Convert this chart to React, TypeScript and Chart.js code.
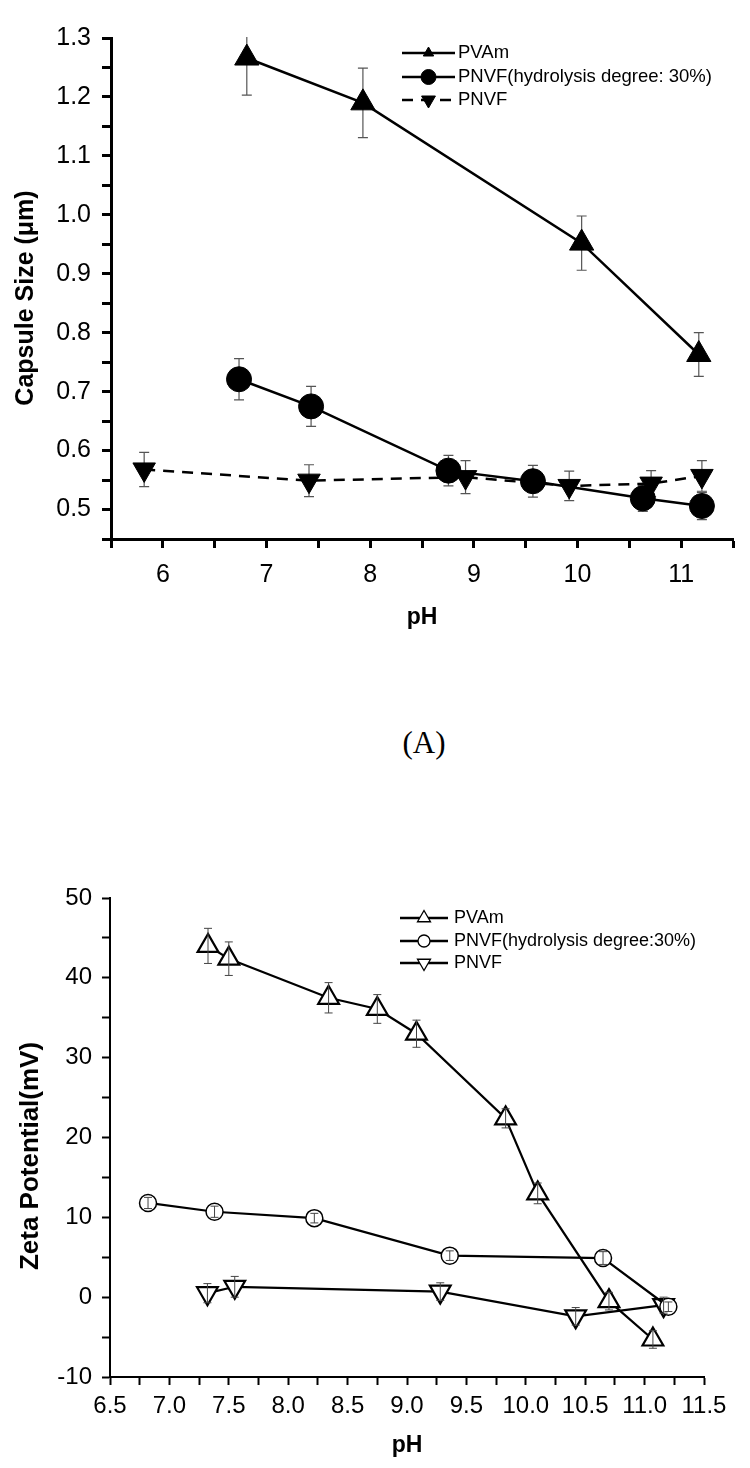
import React, { useEffect, useRef } from 'react';
import { Chart, registerables } from 'chart.js';

Chart.register(...registerables);

const FONT = "'Liberation Sans', Arial, Helvetica, sans-serif";

// ---------- Panel A: capsule size vs pH ----------
const A_TITLE_Y = 'Capsule Size (\u03BCm)';
const A_TITLE_X = 'pH';
const A_LABELS = ['PVAm', 'PNVF(hydrolysis degree: 30%)', 'PNVF'];
const A_PVAM_PH = [6.81, 7.93, 10.04, 11.17];
const A_PVAM_SIZE = [1.266, 1.19, 0.952, 0.763];
const A_PVAM_ERR = [0.063, 0.059, 0.046, 0.037];
const A_PNVF30_PH = [6.735, 7.43, 8.755, 9.57, 10.63, 11.2];
const A_PNVF30_SIZE = [0.721, 0.675, 0.566, 0.548, 0.519, 0.506];
const A_PNVF30_ERR = [0.035, 0.034, 0.026, 0.027, 0.022, 0.023];
const A_PNVF_PH = [5.82, 7.41, 8.92, 9.92, 10.71, 11.2];
const A_PNVF_SIZE = [0.568, 0.549, 0.555, 0.54, 0.544, 0.557];
const A_PNVF_ERR = [0.029, 0.027, 0.028, 0.025, 0.022, 0.026];

// ---------- Panel B: zeta potential vs pH ----------
const B_TITLE_Y = 'Zeta Potential(mV)';
const B_TITLE_X = 'pH';
const B_LABELS = ['PVAm', 'PNVF(hydrolysis degree:30%)', 'PNVF'];
const B_PVAM_PH = [7.325, 7.5, 8.34, 8.75, 9.08, 9.83, 10.1, 10.7, 11.07];
const B_PVAM_ZETA = [44.0, 42.4, 37.5, 36.1, 33.0, 22.4, 13.0, -0.5, -5.3];
const B_PVAM_ERR = [2.2, 2.1, 1.9, 1.8, 1.7, 1.2, 1.3, 1.1, 1.1];
const B_PNVF30_PH = [6.82, 7.38, 8.22, 9.36, 10.65, 11.2];
const B_PNVF30_ZETA = [11.8, 10.7, 9.9, 5.2, 4.9, -1.2];
const B_PNVF30_ERR = [0.7, 0.7, 0.6, 0.6, 0.8, 0.6];
const B_PNVF_PH = [7.32, 7.55, 9.28, 10.42, 11.16];
const B_PNVF_ZETA = [0.5, 1.3, 0.7, -2.4, -1.0];
const B_PNVF_ERR = [1.2, 1.3, 1.1, 1.1, 1.0];

const toPoints = (xs: number[], ys: number[]) => xs.map((x, i) => ({ x, y: ys[i] }));

function shapePath(ctx: CanvasRenderingContext2D, style: string, rot: number, x: number, y: number, r: number) {
  ctx.beginPath();
  if (style === 'circle') {
    ctx.arc(x, y, r, 0, Math.PI * 2);
  } else {
    let a = (rot * Math.PI) / 180;
    for (let k = 0; k < 3; k++) {
      const px = x + Math.sin(a) * r;
      const py = y - Math.cos(a) * r;
      if (k === 0) ctx.moveTo(px, py);
      else ctx.lineTo(px, py);
      a += (2 * Math.PI) / 3;
    }
  }
  ctx.closePath();
}

function drawErrors(chart: any, o: any) {
  const { ctx, chartArea, scales } = chart;
  ctx.save();
  ctx.beginPath();
  ctx.rect(chartArea.left, chartArea.top - 1, chartArea.right - chartArea.left, chartArea.bottom - chartArea.top + 1);
  ctx.clip();
  ctx.strokeStyle = o.color;
  ctx.lineWidth = o.lineWidth;
  chart.data.datasets.forEach((ds: any) => {
    const errs: number[] = ds.errors;
    if (!errs) return;
    ds.data.forEach((p: any, j: number) => {
      const x = scales.x.getPixelForValue(p.x);
      const yHi = scales.y.getPixelForValue(p.y + errs[j]);
      const yLo = scales.y.getPixelForValue(p.y - errs[j]);
      ctx.beginPath();
      ctx.moveTo(x, yHi);
      ctx.lineTo(x, yLo);
      ctx.moveTo(x - o.cap, yHi);
      ctx.lineTo(x + o.cap, yHi);
      ctx.moveTo(x - o.cap, yLo);
      ctx.lineTo(x + o.cap, yLo);
      ctx.stroke();
    });
  });
  ctx.restore();
}

const errorBarPlugin = {
  id: 'errorBars',
  beforeDatasetsDraw(chart: any, _a: any, o: any) {
    if (!o.onTop) drawErrors(chart, o);
  },
  afterDatasetsDraw(chart: any, _a: any, o: any) {
    if (o.onTop) drawErrors(chart, o);
  },
};

const lineLegendPlugin = {
  id: 'lineLegend',
  afterDraw(chart: any, _a: any, o: any) {
    const ctx: CanvasRenderingContext2D = chart.ctx;
    ctx.save();
    chart.data.datasets.forEach((ds: any, i: number) => {
      const y = o.ys[i];
      ctx.strokeStyle = ds.borderColor;
      ctx.lineWidth = o.lineWidth;
      ctx.setLineDash(ds.borderDash || []);
      ctx.beginPath();
      ctx.moveTo(o.x0, y);
      ctx.lineTo(o.x1, y);
      ctx.stroke();
      ctx.setLineDash([]);
      shapePath(ctx, ds.pointStyle, ds.pointRotation || 0, (o.x0 + o.x1) / 2, y, o.radii[i]);
      ctx.fillStyle = ds.pointBackgroundColor;
      ctx.fill();
      ctx.lineWidth = o.symbolBorder;
      ctx.strokeStyle = ds.pointBorderColor;
      ctx.stroke();
      ctx.fillStyle = '#000';
      ctx.font = `${o.fontSize}px ${FONT}`;
      ctx.textAlign = 'left';
      ctx.textBaseline = 'middle';
      ctx.fillText(ds.label, o.textX, y);
    });
    ctx.restore();
  },
};

const yTitlePlugin = {
  id: 'yTitle',
  afterDraw(chart: any, _a: any, o: any) {
    const ctx: CanvasRenderingContext2D = chart.ctx;
    ctx.save();
    ctx.translate(o.x, o.y);
    ctx.rotate(-Math.PI / 2);
    ctx.font = `bold ${o.size}px ${FONT}`;
    ctx.fillStyle = '#000';
    ctx.textAlign = 'center';
    ctx.textBaseline = 'middle';
    ctx.fillText(o.text, 0, 0);
    ctx.restore();
  },
};

const near = (v: number, step: number) => Math.abs(v / step - Math.round(v / step)) < 1e-6;

function axis(opts: {
  min: number; max: number; step: number; labelStep: number; digits: number; fit: number;
  horizontal: boolean; tickLen: number; width: number; pad: number; fontSize: number; title?: any;
}) {
  return {
    type: 'linear',
    min: opts.min,
    max: opts.max,
    afterFit: (s: any) => {
      if (opts.horizontal) s.height = opts.fit;
      else s.width = opts.fit;
    },
    border: { display: true, color: '#000', width: opts.width },
    grid: {
      display: true,
      drawOnChartArea: false,
      drawTicks: true,
      tickLength: opts.tickLen,
      tickWidth: opts.width,
      tickColor: '#000',
      color: '#000',
    },
    ticks: {
      stepSize: opts.step,
      autoSkip: false,
      maxRotation: 0,
      minRotation: 0,
      padding: opts.pad,
      color: '#000',
      font: { family: FONT, size: opts.fontSize },
      callback: (v: number) => (near(v, opts.labelStep) ? Number(v).toFixed(opts.digits) : ''),
    },
    title: opts.title || { display: false },
  };
}

function makeConfigA(): any {
  return {
    type: 'line',
    data: {
      datasets: [
        {
          label: A_LABELS[0], data: toPoints(A_PVAM_PH, A_PVAM_SIZE), errors: A_PVAM_ERR,
          borderColor: '#000', borderWidth: 2.5, tension: 0,
          pointStyle: 'triangle', pointRadius: 14, pointBackgroundColor: '#000', pointBorderColor: '#000', pointBorderWidth: 1,
        },
        {
          label: A_LABELS[1], data: toPoints(A_PNVF30_PH, A_PNVF30_SIZE), errors: A_PNVF30_ERR,
          borderColor: '#000', borderWidth: 2.5, tension: 0,
          pointStyle: 'circle', pointRadius: 12.5, pointBackgroundColor: '#000', pointBorderColor: '#000', pointBorderWidth: 1,
        },
        {
          label: A_LABELS[2], data: toPoints(A_PNVF_PH, A_PNVF_SIZE), errors: A_PNVF_ERR,
          borderColor: '#000', borderWidth: 2.5, borderDash: [11, 8], tension: 0,
          pointStyle: 'triangle', pointRotation: 180, pointRadius: 13, pointBackgroundColor: '#000', pointBorderColor: '#000', pointBorderWidth: 1,
        },
      ],
    },
    options: {
      responsive: false,
      animation: false,
      events: [],
      layout: { padding: { left: 0, right: 17, top: 38, bottom: 0 } },
      plugins: {
        legend: { display: false },
        tooltip: { enabled: false },
        errorBars: { onTop: false, color: '#555', lineWidth: 1.2, cap: 5 },
        lineLegend: { x0: 402, x1: 455, textX: 458, ys: [53, 77, 100], radii: [6, 7.5, 8], lineWidth: 2.5, symbolBorder: 1, fontSize: 18.5 },
        yTitle: { text: A_TITLE_Y, x: 26, y: 298, size: 25 },
      },
      scales: {
        x: axis({
          min: 5.5, max: 11.5, step: 0.5, labelStep: 1, digits: 0, fit: 111, horizontal: true, tickLen: 9, width: 3, pad: 12, fontSize: 25,
          title: { display: true, text: A_TITLE_X, color: '#000', font: { family: FONT, size: 23, weight: 'bold' }, padding: { top: 0, bottom: 19 } },
        }),
        y: axis({ min: 0.45, max: 1.3, step: 0.05, labelStep: 0.1, digits: 1, fit: 111, horizontal: false, tickLen: 9, width: 3, pad: 11, fontSize: 25 }),
      },
    },
    plugins: [errorBarPlugin, lineLegendPlugin, yTitlePlugin],
  };
}

function makeConfigB(): any {
  return {
    type: 'line',
    data: {
      datasets: [
        {
          label: B_LABELS[0], data: toPoints(B_PVAM_PH, B_PVAM_ZETA), errors: B_PVAM_ERR,
          borderColor: '#000', borderWidth: 2.2, tension: 0,
          pointStyle: 'triangle', pointRadius: 12, pointBackgroundColor: '#fff', pointBorderColor: '#000', pointBorderWidth: 2.2,
        },
        {
          label: B_LABELS[1], data: toPoints(B_PNVF30_PH, B_PNVF30_ZETA), errors: B_PNVF30_ERR,
          borderColor: '#000', borderWidth: 2.2, tension: 0,
          pointStyle: 'circle', pointRadius: 8.5, pointBackgroundColor: '#fff', pointBorderColor: '#000', pointBorderWidth: 1.5,
        },
        {
          label: B_LABELS[2], data: toPoints(B_PNVF_PH, B_PNVF_ZETA), errors: B_PNVF_ERR,
          borderColor: '#000', borderWidth: 2.2, tension: 0,
          pointStyle: 'triangle', pointRotation: 180, pointRadius: 12, pointBackgroundColor: '#fff', pointBorderColor: '#000', pointBorderWidth: 2.2,
        },
      ],
    },
    options: {
      responsive: false,
      animation: false,
      events: [],
      layout: { padding: { left: 0, right: 46, top: 98, bottom: 0 } },
      plugins: {
        legend: { display: false },
        tooltip: { enabled: false },
        errorBars: { onTop: true, color: '#444', lineWidth: 1, cap: 4 },
        lineLegend: { x0: 400, x1: 448, textX: 454, ys: [118, 141, 163], radii: [7.5, 6, 7.5], lineWidth: 2.5, symbolBorder: 1.3, fontSize: 18 },
        yTitle: { text: B_TITLE_Y, x: 31, y: 356, size: 26 },
      },
      scales: {
        x: axis({
          min: 6.5, max: 11.5, step: 0.25, labelStep: 0.5, digits: 1, fit: 91, horizontal: true, tickLen: 8, width: 2, pad: 7, fontSize: 24,
          title: { display: true, text: B_TITLE_X, color: '#000', font: { family: FONT, size: 23, weight: 'bold' }, padding: { top: 0, bottom: 9 } },
        }),
        y: axis({ min: -10, max: 50, step: 5, labelStep: 10, digits: 0, fit: 110, horizontal: false, tickLen: 8, width: 2, pad: 10, fontSize: 24 }),
      },
    },
    plugins: [errorBarPlugin, lineLegendPlugin, yTitlePlugin],
  };
}

export default function App() {
  const refA = useRef<HTMLCanvasElement>(null);
  const refB = useRef<HTMLCanvasElement>(null);

  useEffect(() => {
    const a = new Chart(refA.current as HTMLCanvasElement, makeConfigA());
    const b = new Chart(refB.current as HTMLCanvasElement, makeConfigB());
    return () => {
      a.destroy();
      b.destroy();
    };
  }, []);

  return (
    <div style={{ position: 'absolute', left: 0, top: 0, width: 750, height: 1468, background: '#fff', overflow: 'hidden' }}>
      <canvas ref={refA} width={750} height={650} style={{ position: 'absolute', left: 0, top: 0, width: 750, height: 650 }} />
      <div
        style={{
          position: 'absolute', left: 374, top: 723, width: 100, textAlign: 'center',
          fontFamily: "'Liberation Serif', 'Times New Roman', serif", fontSize: 31, lineHeight: '40px', color: '#000',
        }}
      >
        (A)
      </div>
      <canvas ref={refB} width={750} height={668} style={{ position: 'absolute', left: 0, top: 800, width: 750, height: 668 }} />
    </div>
  );
}
